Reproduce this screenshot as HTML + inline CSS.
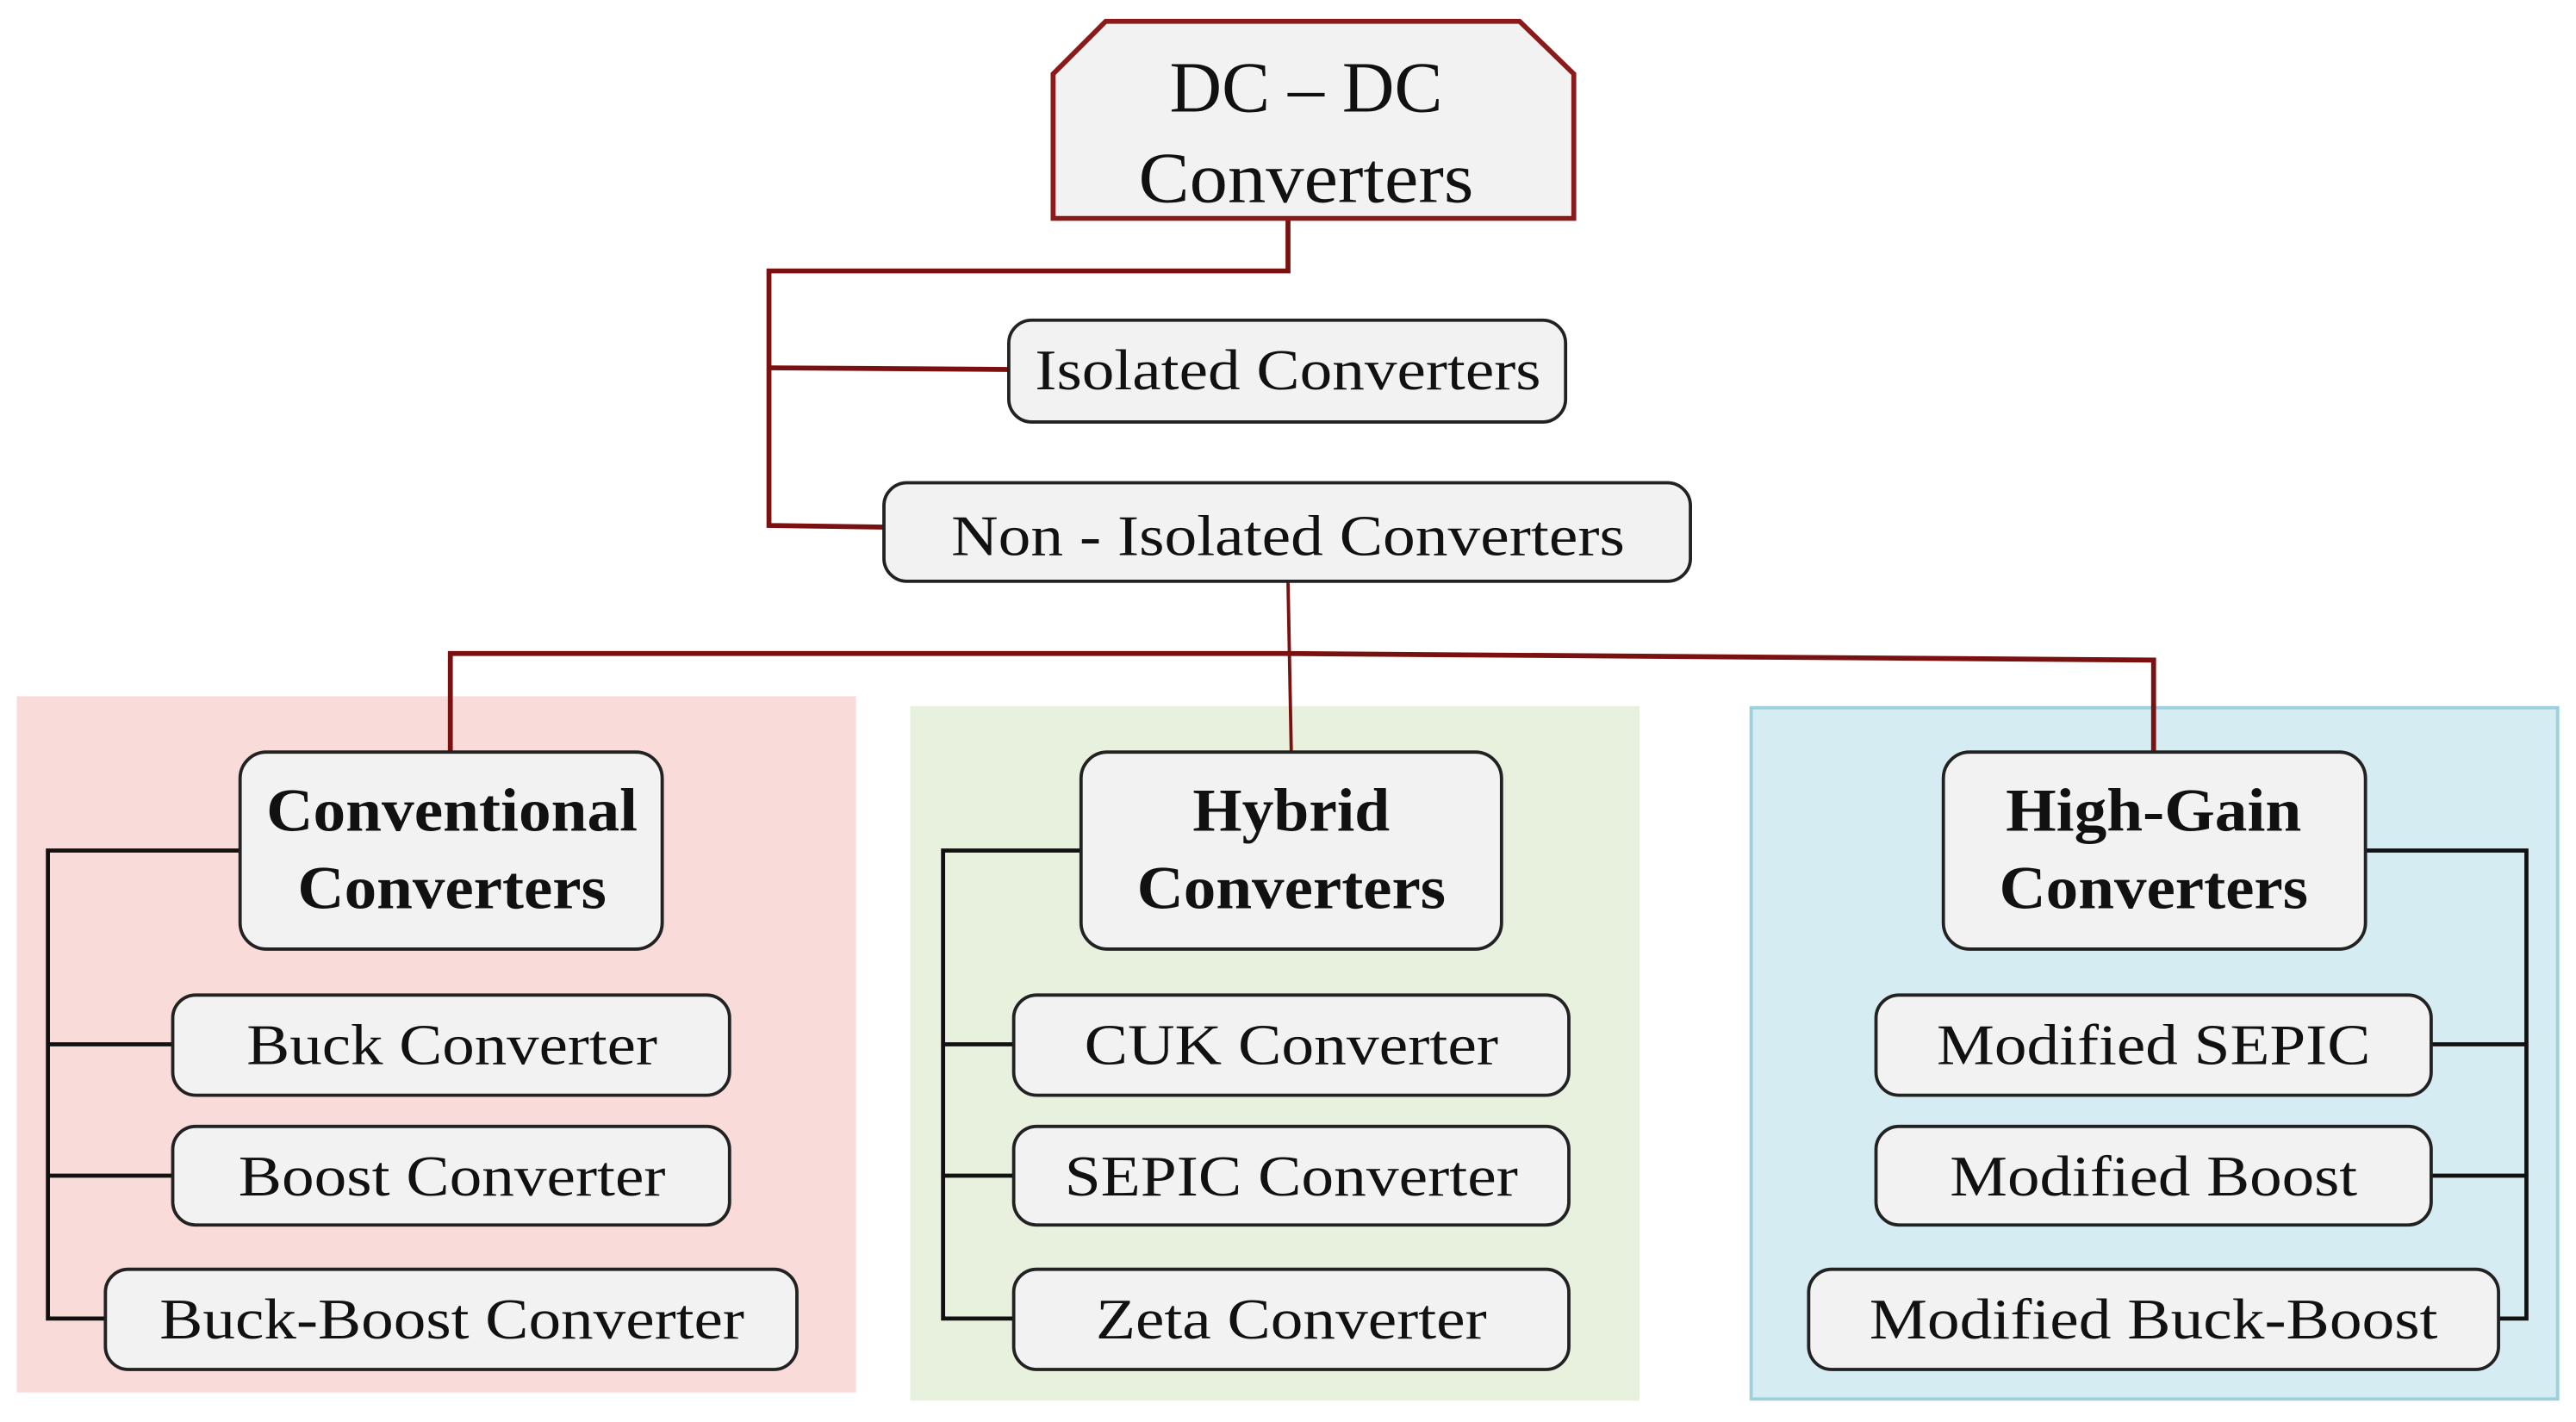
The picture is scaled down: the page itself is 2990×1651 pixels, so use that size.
<!DOCTYPE html>
<html><head><meta charset="utf-8"><style>html,body{margin:0;padding:0;background:#fff}</style></head>
<body>
<svg width="2990" height="1651" viewBox="0 0 1568 866" xmlns="http://www.w3.org/2000/svg" style="display:block">
<g font-family="Liberation Serif, serif" fill="#111">
<rect x="10" y="424" width="511" height="424" fill="#f9dbd9"/>
<rect x="554" y="430" width="444" height="423" fill="#e8f0de"/>
<rect x="1066" y="431" width="491" height="421" fill="#d5edf2" stroke="#9bd0dc" stroke-width="2"/>
<g fill="none" stroke="#7a1010" stroke-width="3">
<polyline points="784,133 784,165 468,165 468,320 538,321"/>
<line x1="468" y1="224" x2="614" y2="225"/>
<polyline points="274,458 274,398 784,398 1311,402 1311,458"/>
<line x1="784" y1="354" x2="786" y2="458" stroke-width="2"/>
</g>
<g fill="none" stroke="#111" stroke-width="2.5">
<polyline points="146,518 29,518 29,803 64,803"/>
<line x1="29" y1="636" x2="105" y2="636"/><line x1="29" y1="716" x2="105" y2="716"/>
<polyline points="658,518 574,518 574,803 617,803"/>
<line x1="574" y1="636" x2="617" y2="636"/><line x1="574" y1="716" x2="617" y2="716"/>
<polyline points="1440,518 1538,518 1538,803 1521,803"/>
<line x1="1538" y1="636" x2="1480" y2="636"/><line x1="1538" y1="716" x2="1480" y2="716"/>
</g>
<polygon points="673,13 925,13 958,45 958,133 641,133 641,45" fill="#f2f2f2" stroke="#8b1a1a" stroke-width="3"/>
<g fill="#f2f2f2" stroke="#222" stroke-width="2">
<rect x="614" y="195" width="339" height="62" rx="14"/>
<rect x="538" y="294" width="491" height="60" rx="14"/>
<rect x="146" y="458" width="257" height="120" rx="16"/>
<rect x="658" y="458" width="256" height="120" rx="16"/>
<rect x="1183" y="458" width="257" height="120" rx="16"/>
<rect x="105" y="606" width="339" height="61" rx="14"/>
<rect x="105" y="686" width="339" height="60" rx="14"/>
<rect x="64" y="773" width="421" height="61" rx="14"/>
<rect x="617" y="606" width="338" height="61" rx="14"/>
<rect x="617" y="686" width="338" height="60" rx="14"/>
<rect x="617" y="773" width="338" height="61" rx="14"/>
<rect x="1142" y="606" width="338" height="61" rx="14"/>
<rect x="1142" y="686" width="338" height="60" rx="14"/>
<rect x="1101" y="773" width="420" height="61" rx="14"/>
</g>
<g text-anchor="middle" font-size="44">
<text x="795" y="68">DC – DC</text>
<text x="795" y="123" textLength="204" lengthAdjust="spacingAndGlyphs">Converters</text>
</g>
<g text-anchor="middle" font-size="35">
<text x="784" y="237" textLength="308" lengthAdjust="spacingAndGlyphs">Isolated Converters</text>
<text x="784" y="338" textLength="410" lengthAdjust="spacingAndGlyphs">Non - Isolated Converters</text>
<text x="275" y="648" textLength="250" lengthAdjust="spacingAndGlyphs">Buck Converter</text>
<text x="275" y="728" textLength="260" lengthAdjust="spacingAndGlyphs">Boost Converter</text>
<text x="275" y="815" textLength="356" lengthAdjust="spacingAndGlyphs">Buck-Boost Converter</text>
<text x="786" y="648" textLength="252" lengthAdjust="spacingAndGlyphs">CUK Converter</text>
<text x="786" y="728" textLength="276" lengthAdjust="spacingAndGlyphs">SEPIC Converter</text>
<text x="786" y="815" textLength="238" lengthAdjust="spacingAndGlyphs">Zeta Converter</text>
<text x="1311" y="648" textLength="264" lengthAdjust="spacingAndGlyphs">Modified SEPIC</text>
<text x="1311" y="728" textLength="248" lengthAdjust="spacingAndGlyphs">Modified Boost</text>
<text x="1311" y="815" textLength="346" lengthAdjust="spacingAndGlyphs">Modified Buck-Boost</text>
</g>
<g text-anchor="middle" font-size="37" font-weight="bold">
<text x="275" y="506" textLength="226" lengthAdjust="spacingAndGlyphs">Conventional</text>
<text x="275" y="553" textLength="188" lengthAdjust="spacingAndGlyphs">Converters</text>
<text x="786" y="506" textLength="120" lengthAdjust="spacingAndGlyphs">Hybrid</text>
<text x="786" y="553" textLength="188" lengthAdjust="spacingAndGlyphs">Converters</text>
<text x="1311" y="506" textLength="180" lengthAdjust="spacingAndGlyphs">High-Gain</text>
<text x="1311" y="553" textLength="188" lengthAdjust="spacingAndGlyphs">Converters</text>
</g>
</g>
</svg>
</body></html>
